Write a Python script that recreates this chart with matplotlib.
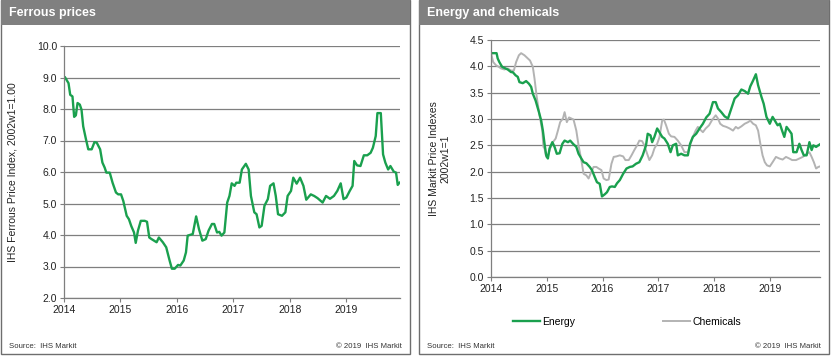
import matplotlib
matplotlib.use("Agg")
import matplotlib.pyplot as plt
from matplotlib.patches import Rectangle

plt.rcParams['font.family'] = ['Liberation Sans', 'DejaVu Sans']

# ---------------- data ----------------
ferrous_t = [2014.02, 2014.08, 2014.11, 2014.15, 2014.18, 2014.21, 2014.24, 2014.28, 2014.31, 2014.34,
             2014.39, 2014.43, 2014.49, 2014.54, 2014.58, 2014.64, 2014.68, 2014.72, 2014.75, 2014.81,
             2014.86, 2014.92, 2014.96, 2015.01, 2015.05, 2015.11, 2015.15, 2015.19, 2015.24, 2015.27,
             2015.31, 2015.36, 2015.43, 2015.47, 2015.51, 2015.55, 2015.64, 2015.68, 2015.75, 2015.81,
             2015.87, 2015.91, 2015.96, 2016.02, 2016.06, 2016.12, 2016.16, 2016.19, 2016.28, 2016.34,
             2016.39, 2016.45, 2016.51, 2016.56, 2016.62, 2016.66, 2016.71, 2016.75, 2016.79, 2016.84,
             2016.89, 2016.93, 2016.97, 2017.02, 2017.05, 2017.11, 2017.15, 2017.22, 2017.27, 2017.31,
             2017.37, 2017.41, 2017.46, 2017.50, 2017.55, 2017.61, 2017.65, 2017.71, 2017.75, 2017.79,
             2017.86, 2017.92, 2017.96, 2018.02, 2018.06, 2018.12, 2018.18, 2018.24, 2018.29, 2018.37,
             2018.43, 2018.49, 2018.58, 2018.64, 2018.71, 2018.78, 2018.84, 2018.90, 2018.95, 2019.00,
             2019.06, 2019.11, 2019.14, 2019.19, 2019.25, 2019.31, 2019.37, 2019.43, 2019.47, 2019.52,
             2019.55, 2019.61, 2019.65, 2019.69, 2019.74, 2019.78, 2019.84, 2019.88, 2019.91, 2019.94]
ferrous_v = [9.00, 8.82, 8.45, 8.40, 7.75, 7.80, 8.19, 8.14, 7.98, 7.45,
             7.03, 6.72, 6.72, 6.95, 6.93, 6.72, 6.30, 6.14, 5.98, 5.98,
             5.66, 5.35, 5.29, 5.29, 5.08, 4.61, 4.50, 4.29, 4.08, 3.75,
             4.14, 4.45, 4.45, 4.42, 3.92, 3.87, 3.77, 3.92, 3.77, 3.61,
             3.19, 2.93, 2.93, 3.05, 3.03, 3.19, 3.45, 3.98, 4.03, 4.59,
             4.19, 3.82, 3.87, 4.14, 4.35, 4.35, 4.08, 4.10, 3.98, 4.08,
             5.03, 5.24, 5.64, 5.56, 5.66, 5.66, 6.08, 6.26, 6.08, 5.24,
             4.72, 4.66, 4.24, 4.29, 4.93, 5.14, 5.56, 5.64, 5.24, 4.66,
             4.61, 4.72, 5.24, 5.40, 5.82, 5.63, 5.82, 5.56, 5.12, 5.29,
             5.24, 5.17, 5.03, 5.24, 5.15, 5.24, 5.40, 5.64, 5.14, 5.19,
             5.40, 5.56, 6.35, 6.21, 6.19, 6.53, 6.53, 6.61, 6.77, 7.14,
             7.87, 7.87, 6.56, 6.30, 6.08, 6.19, 6.01, 5.98, 5.59, 5.66]

energy_t = [2014.00, 2014.06, 2014.10, 2014.12, 2014.15, 2014.20, 2014.24, 2014.30, 2014.36, 2014.39,
            2014.44, 2014.48, 2014.51, 2014.57, 2014.63, 2014.68, 2014.72, 2014.75, 2014.80, 2014.86,
            2014.90, 2014.93, 2014.96, 2014.99, 2015.02, 2015.05, 2015.10, 2015.14, 2015.18, 2015.23,
            2015.28, 2015.32, 2015.38, 2015.42, 2015.47, 2015.53, 2015.57, 2015.62, 2015.66, 2015.71,
            2015.77, 2015.81, 2015.86, 2015.90, 2015.95, 2015.99, 2016.04, 2016.08, 2016.13, 2016.17,
            2016.22, 2016.26, 2016.31, 2016.37, 2016.43, 2016.49, 2016.54, 2016.60, 2016.66, 2016.72,
            2016.78, 2016.81, 2016.86, 2016.89, 2016.93, 2016.98, 2017.02, 2017.07, 2017.11, 2017.17,
            2017.22, 2017.26, 2017.32, 2017.35, 2017.41, 2017.47, 2017.53, 2017.57, 2017.62, 2017.68,
            2017.74, 2017.80, 2017.86, 2017.92, 2017.98, 2018.03, 2018.07, 2018.13, 2018.19, 2018.25,
            2018.31, 2018.37, 2018.43, 2018.49, 2018.55, 2018.61, 2018.65, 2018.70, 2018.75, 2018.79,
            2018.85, 2018.89, 2018.94, 2019.00, 2019.05, 2019.09, 2019.14, 2019.18, 2019.22, 2019.26,
            2019.30, 2019.35, 2019.39, 2019.42, 2019.48, 2019.53, 2019.57, 2019.61, 2019.66, 2019.71,
            2019.75, 2019.78, 2019.83, 2019.87, 2019.90]
energy_v = [4.25, 4.25, 4.25, 4.15, 4.08, 3.99, 3.97, 3.94, 3.89, 3.89,
            3.83, 3.80, 3.70, 3.68, 3.72, 3.67, 3.61, 3.48, 3.35, 3.13,
            2.97, 2.78, 2.53, 2.31, 2.25, 2.44, 2.56, 2.47, 2.34, 2.35,
            2.53, 2.59, 2.56, 2.59, 2.53, 2.47, 2.34, 2.25, 2.18, 2.16,
            2.09, 2.03, 1.90, 1.80, 1.77, 1.53, 1.57, 1.61, 1.71, 1.72,
            1.71, 1.78, 1.84, 1.96, 2.06, 2.09, 2.10, 2.15, 2.18, 2.31,
            2.50, 2.72, 2.69, 2.56, 2.66, 2.82, 2.75, 2.66, 2.63, 2.53,
            2.37, 2.50, 2.53, 2.31, 2.34, 2.31, 2.31, 2.53, 2.66, 2.72,
            2.82, 2.91, 3.03, 3.10, 3.32, 3.32, 3.20, 3.13, 3.05, 3.01,
            3.20, 3.39, 3.45, 3.56, 3.53, 3.48, 3.62, 3.73, 3.85, 3.64,
            3.42, 3.29, 3.04, 2.91, 3.04, 2.97, 2.88, 2.91, 2.78, 2.66,
            2.85, 2.78, 2.72, 2.37, 2.37, 2.53, 2.41, 2.31, 2.31, 2.56,
            2.41, 2.50, 2.47, 2.50, 2.52]

chem_t = [2014.00, 2014.04, 2014.09, 2014.14, 2014.18, 2014.24, 2014.30, 2014.36, 2014.41, 2014.45,
          2014.50, 2014.54, 2014.60, 2014.66, 2014.70, 2014.75, 2014.78, 2014.82, 2014.87, 2014.92,
          2014.94, 2014.96, 2014.99, 2015.02, 2015.06, 2015.11, 2015.16, 2015.20, 2015.24, 2015.29,
          2015.32, 2015.36, 2015.40, 2015.44, 2015.48, 2015.53, 2015.57, 2015.62, 2015.66, 2015.71,
          2015.75, 2015.80, 2015.84, 2015.89, 2015.93, 2015.98, 2016.02, 2016.07, 2016.11, 2016.16,
          2016.20, 2016.25, 2016.31, 2016.37, 2016.41, 2016.47, 2016.52, 2016.57, 2016.62, 2016.66,
          2016.71, 2016.75, 2016.80, 2016.84, 2016.89, 2016.93, 2016.98, 2017.02, 2017.07, 2017.10,
          2017.14, 2017.19, 2017.23, 2017.29, 2017.35, 2017.41, 2017.47, 2017.53, 2017.57, 2017.62,
          2017.67, 2017.71, 2017.75, 2017.80, 2017.85, 2017.91, 2017.97, 2018.03, 2018.07, 2018.11,
          2018.16, 2018.22, 2018.28, 2018.34, 2018.39, 2018.43, 2018.49, 2018.55, 2018.61, 2018.65,
          2018.70, 2018.75, 2018.79, 2018.83, 2018.87, 2018.91, 2018.95, 2019.00, 2019.05, 2019.11,
          2019.17, 2019.23, 2019.29, 2019.35, 2019.40, 2019.47, 2019.53, 2019.59, 2019.65, 2019.71,
          2019.75, 2019.79, 2019.83, 2019.87, 2019.90]
chem_v = [4.25, 4.08, 4.02, 3.99, 3.96, 3.94, 3.96, 3.92, 3.92, 4.08,
          4.21, 4.25, 4.21, 4.15, 4.11, 3.99, 3.77, 3.42, 3.07, 2.78,
          2.47, 2.44, 2.28, 2.29, 2.44, 2.56, 2.63, 2.78, 2.94, 3.01,
          3.13, 2.94, 3.03, 3.01, 2.99, 2.78, 2.50, 2.22, 1.96, 1.93,
          1.87, 2.00, 2.09, 2.09, 2.06, 2.03, 1.87, 1.84, 1.85, 2.15,
          2.28, 2.29, 2.31, 2.29, 2.22, 2.22, 2.31, 2.41, 2.50, 2.59,
          2.58, 2.50, 2.34, 2.22, 2.31, 2.44, 2.53, 2.65, 2.97, 2.99,
          2.88, 2.72, 2.67, 2.66, 2.59, 2.50, 2.37, 2.37, 2.50, 2.66,
          2.78, 2.85, 2.80, 2.75, 2.82, 2.88, 2.99, 3.07, 3.01, 2.91,
          2.87, 2.85, 2.82, 2.78, 2.85, 2.82, 2.86, 2.91, 2.94, 2.97,
          2.91, 2.88, 2.78, 2.53, 2.31, 2.18, 2.12, 2.10, 2.18, 2.28,
          2.25, 2.23, 2.28, 2.25, 2.22, 2.22, 2.25, 2.28, 2.33, 2.37,
          2.28, 2.18, 2.06, 2.09, 2.10]

years = [2014, 2015, 2016, 2017, 2018, 2019]
ferrous_yticks = [2.0, 3.0, 4.0, 5.0, 6.0, 7.0, 8.0, 9.0, 10.0]
energy_yticks = [0.0, 0.5, 1.0, 1.5, 2.0, 2.5, 3.0, 3.5, 4.0, 4.5]

# ---------------- figure ----------------
W, H = 834, 364
fig = plt.figure(figsize=(W / 100, H / 100), dpi=100)
GREEN = '#1aa04e'
GRAY_LINE = '#b3b3b3'
GRID = '#7f7f7f'
HEADER = '#808080'


def fx(px):
    return px / W


def fy(py):
    return 1 - py / H


def panel(x0, x1, title):
    fig.patches.append(Rectangle((fx(x0), fy(354)), fx(x1 - x0), 354 / H,
                                 transform=fig.transFigure, facecolor='white',
                                 edgecolor='#6e6e6e', linewidth=1.0, zorder=-3))
    fig.patches.append(Rectangle((fx(x0), fy(25)), fx(x1 - x0), 25 / H,
                                 transform=fig.transFigure, facecolor=HEADER,
                                 edgecolor='none', zorder=-2))
    fig.text(fx(x0 + 8), fy(13), title, color='white', fontsize=9, fontweight='bold',
             va='center', ha='left')
    fig.text(fx(x0 + 8), fy(346), 'Source:  IHS Markit', fontsize=5.6, color='#333333',
             va='center', ha='left')
    fig.text(fx(x1 - 8), fy(346), '\u00a9 2019  IHS Markit', fontsize=5.6, color='#333333',
             va='center', ha='right')


def style_axes(ax, yticks, fmt):
    ax.set_facecolor('none')
    ax.set_xticks(years)
    ax.set_xticklabels([str(y) for y in years])
    ax.set_yticks(yticks)
    ax.set_yticklabels([fmt.format(v) for v in yticks])
    ax.yaxis.grid(True, color=GRID, linewidth=0.9)
    ax.set_axisbelow(True)
    for s in ['top', 'right']:
        ax.spines[s].set_visible(False)
    for s in ['left', 'bottom']:
        ax.spines[s].set_color(GRID)
        ax.spines[s].set_linewidth(0.9)
    ax.tick_params(axis='both', labelsize=7.5, colors=GRID, labelcolor='#222222',
                   length=3, width=0.8, pad=2)


panel(1, 410, 'Ferrous prices')
panel(419, 829, 'Energy and chemicals')

# left chart
ax1 = fig.add_axes([fx(64), fy(298), fx(400 - 64), (298 - 46) / H])
ax1.plot(ferrous_t, ferrous_v, color=GREEN, linewidth=1.7)
ax1.set_xlim(2014, 2019.95)
ax1.set_ylim(2.0, 10.0)
style_axes(ax1, ferrous_yticks, '{:.1f}')
ax1.set_ylabel('IHS Ferrous Price Index, 2002w1=1.00', fontsize=7.5, color='#222222', labelpad=14)

# right chart
ax2 = fig.add_axes([fx(491), fy(277), fx(820 - 491), (277 - 40) / H])
ax2.plot(chem_t, chem_v, color=GRAY_LINE, linewidth=1.4, label='Chemicals')
ax2.plot(energy_t, energy_v, color=GREEN, linewidth=1.7, label='Energy')
ax2.set_xlim(2014, 2019.9)
ax2.set_ylim(0.0, 4.5)
style_axes(ax2, energy_yticks, '{:.1f}')
ax2.set_ylabel('IHS Markit Price Indexes\n2002w1=1', fontsize=7.5, color='#222222', labelpad=14)

handles, labels = ax2.get_legend_handles_labels()
order = [1, 0]
fig.legend([handles[i] for i in order], [labels[i] for i in order],
           loc='center', bbox_to_anchor=(fx(627), fy(322)), ncol=2, frameon=False,
           fontsize=7.5, handlelength=2.6, handletextpad=0.2, columnspacing=8.5)

fig.savefig('out.png', dpi=100)
